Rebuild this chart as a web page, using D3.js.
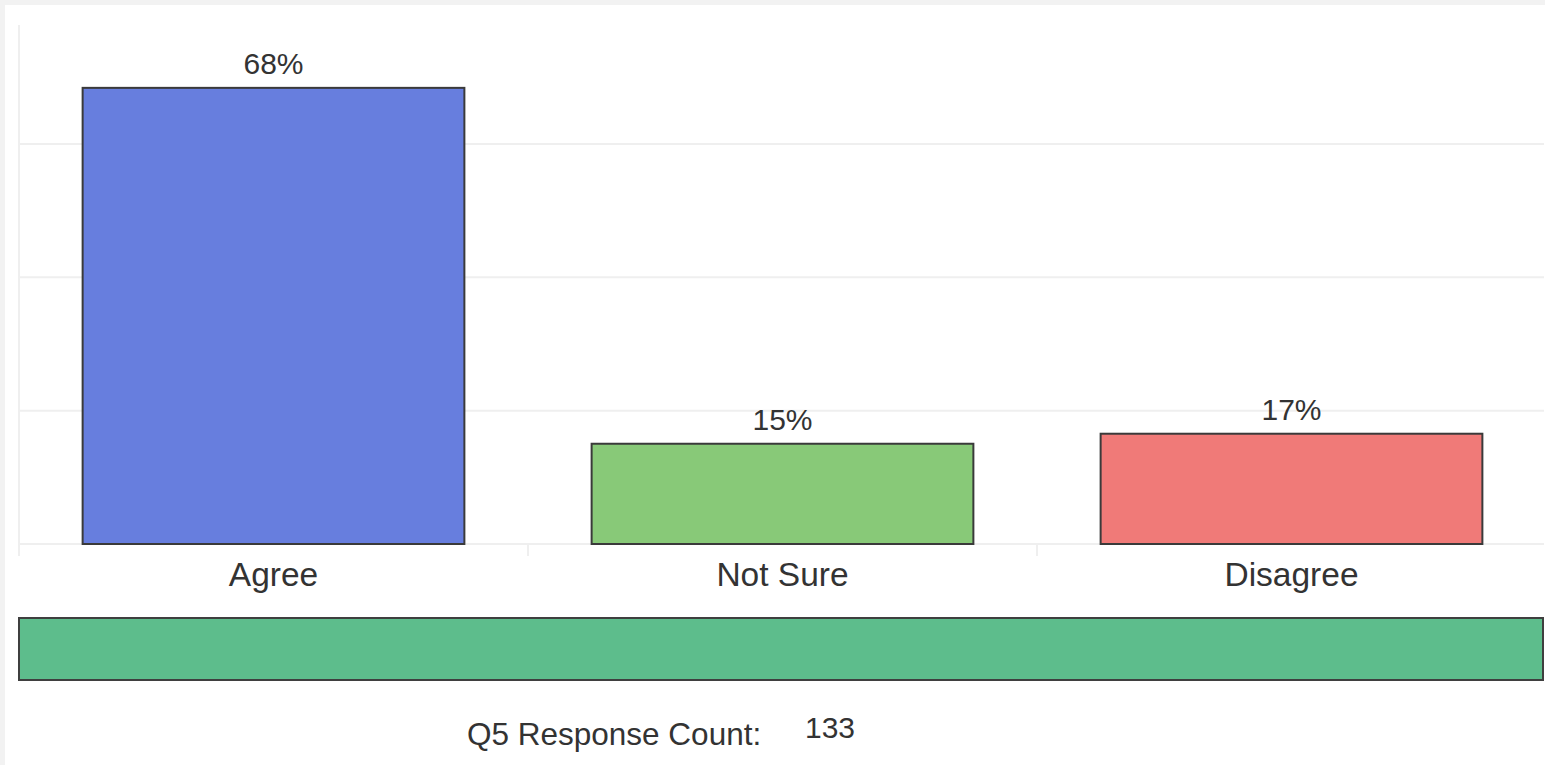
<!DOCTYPE html>
<html>
<head>
<meta charset="utf-8">
<script src="https://cdn.jsdelivr.net/npm/d3@7"></script>
<style>
    html, body { margin: 0; padding: 0; background: #f2f2f2; }
    #chart { position: absolute; left: 5px; top: 5px; width: 1540px; height: 760px; background: #fff; }
</style>
</head>
<body>
<div id="chart"></div>
<script>
// survey answers for Q5
var categories = ["Agree", "Not Sure", "Disagree"];
var counts = [91, 20, 22];
var barColors = ["#677ede", "#88c978", "#f07a78"];
var gridTicks = [0, 20, 40, 60];
var questionLabel = "Q5 Response Count:";
var responseCount = 133;

var percents = counts.map(function (c) { return c / responseCount * 100; });

var width = 1540, height = 760;

var svg = d3.select("#chart")
    .append("svg")
    .attr("width", width)
    .attr("height", height);

// svg coords are offset by the 5px panel margin
var x = d3.scaleBand()
    .domain(categories)
    .range([14, 1541])
    .paddingInner(0.25)
    .paddingOuter(0.125);

var y = d3.scaleLinear()
    .domain([0, 77.85])
    .range([539, 20]);

// horizontal grid
svg.append("g")
    .selectAll("line")
    .data(gridTicks)
    .enter()
    .append("line")
    .attr("x1", 14)
    .attr("x2", 1539)
    .attr("y1", function (d) { return y(d); })
    .attr("y2", function (d) { return y(d); })
    .attr("stroke", "#efefef")
    .attr("stroke-width", 2);

// left edge line
svg.append("line")
    .attr("x1", 14).attr("x2", 14)
    .attr("y1", 20).attr("y2", 551)
    .attr("stroke", "#efefef")
    .attr("stroke-width", 2);

// band separators under the baseline
var step = x.step();
svg.append("g")
    .selectAll("line")
    .data(categories.slice(1))
    .enter()
    .append("line")
    .attr("x1", function (d) { return x(d) - step * x.paddingInner() / 2; })
    .attr("x2", function (d) { return x(d) - step * x.paddingInner() / 2; })
    .attr("y1", y(0))
    .attr("y2", y(0) + 12)
    .attr("stroke", "#efefef")
    .attr("stroke-width", 2);

var bars = svg.append("g")
    .selectAll("g")
    .data(categories)
    .enter()
    .append("g");

bars.append("rect")
    .attr("x", function (d) { return x(d); })
    .attr("y", function (d, i) { return y(percents[i]); })
    .attr("width", x.bandwidth())
    .attr("height", function (d, i) { return y(0) - y(percents[i]); })
    .attr("fill", function (d, i) { return barColors[i]; })
    .attr("stroke", "#3a3a3a")
    .attr("stroke-width", 2);

bars.append("text")
    .attr("x", function (d) { return x(d) + x.bandwidth() / 2; })
    .attr("y", function (d, i) { return y(percents[i]) - 14; })
    .attr("text-anchor", "middle")
    .attr("font-family", "Liberation Sans, Arial, sans-serif")
    .attr("font-size", 30)
    .attr("fill", "#333")
    .text(function (d, i) { return Math.round(percents[i]) + "%"; });

bars.append("text")
    .attr("x", function (d) { return x(d) + x.bandwidth() / 2; })
    .attr("y", 581)
    .attr("text-anchor", "middle")
    .attr("font-family", "Liberation Sans, Arial, sans-serif")
    .attr("font-size", 33.5)
    .attr("fill", "#333")
    .text(function (d) { return d; });

// full width bar under the chart
svg.append("rect")
    .attr("x", 14)
    .attr("y", 613)
    .attr("width", 1524)
    .attr("height", 62)
    .attr("fill", "#5dbd8c")
    .attr("stroke", "#3f3f3f")
    .attr("stroke-width", 2);

svg.append("text")
    .attr("x", 462)
    .attr("y", 740)
    .attr("font-family", "Liberation Sans, Arial, sans-serif")
    .attr("font-size", 31.5)
    .attr("fill", "#333")
    .text(questionLabel);

svg.append("text")
    .attr("x", 800)
    .attr("y", 733)
    .attr("font-family", "Liberation Sans, Arial, sans-serif")
    .attr("font-size", 30)
    .attr("fill", "#333")
    .text(responseCount);
</script>
</body>
</html>
